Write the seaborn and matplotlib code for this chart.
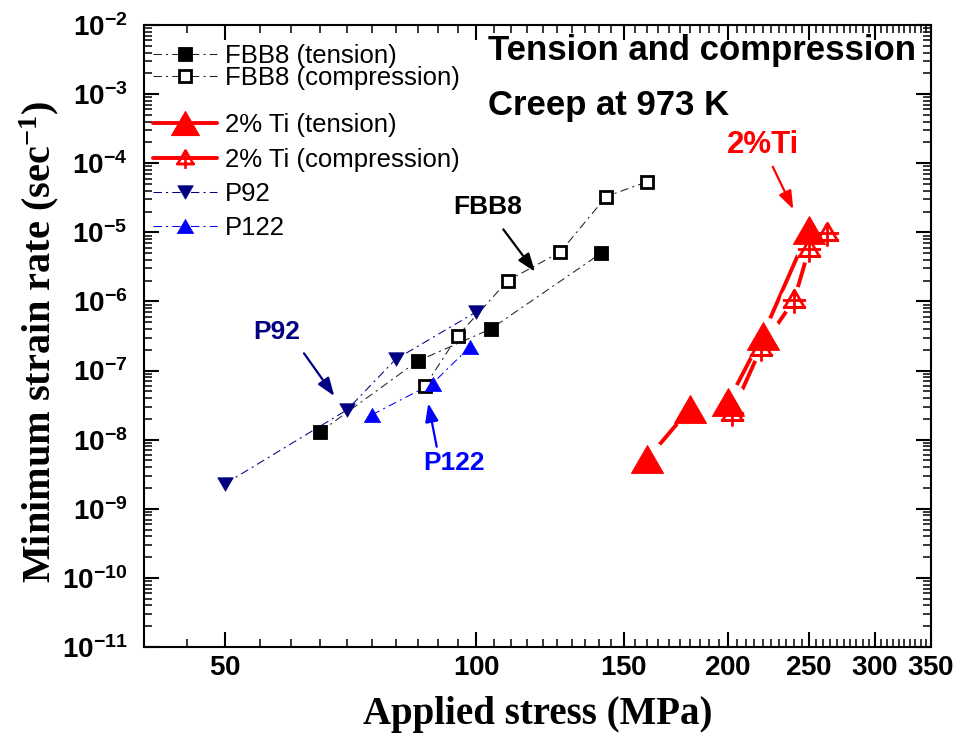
import numpy as np
import matplotlib
matplotlib.use("Agg")
import matplotlib.pyplot as plt
from matplotlib.path import Path
from matplotlib.lines import Line2D
from matplotlib.ticker import FixedLocator, FuncFormatter, NullFormatter
import seaborn as sns

# ---- creep data: applied stress (MPa) vs minimum strain rate (1/s) ----
fbb8_t_stress = [65, 85, 104, 141]
fbb8_t_rate = [1.3e-8, 1.37e-7, 4.0e-7, 5.0e-6]

fbb8_c_stress = [86.8, 95, 109, 126, 143, 160]
fbb8_c_rate = [6.0e-8, 3.2e-7, 2.0e-6, 5.2e-6, 3.3e-5, 5.4e-5]

ti_t_stress = [160, 180, 200, 220, 250]
ti_t_rate = [5.2e-9, 2.8e-8, 3.5e-8, 3.2e-7, 1.08e-5]

ti_c_stress = [202, 219, 240, 250, 263]
ti_c_rate = [2.4e-8, 2.1e-7, 1.05e-6, 5.7e-6, 9.7e-6]

p92_stress = [50, 70, 80, 100]
p92_rate = [2.3e-9, 2.7e-8, 1.45e-7, 7.1e-7]

p122_stress = [75, 88.6, 98.2]
p122_rate = [2.3e-8, 6.5e-8, 2.2e-7]

legend_labels_a = ["FBB8 (tension)", "FBB8 (compression)"]
legend_labels_b = ["2% Ti (tension)", "2% Ti (compression)", "P92", "P122"]

x_ticks = [50, 100, 150, 200, 250, 300, 350]
y_exponents = list(range(-11, -1))

# ---- style ----
sns.set_theme(style="white")
plt.rcParams["font.family"] = ["Liberation Sans", "DejaVu Sans"]
plt.rcParams["mathtext.fontset"] = "custom"
plt.rcParams["mathtext.bf"] = "Liberation Sans:bold"
plt.rcParams["mathtext.rm"] = "Liberation Serif:bold"
plt.rcParams["mathtext.it"] = "Liberation Serif:bold:italic"
plt.rcParams["text.color"] = "black"

RED = "#FF0000"
NAVY = "#000080"
BLUE = "#0000FF"
DASHDOT = (0, (8, 4, 2, 4))

# marker shapes: equilateral triangles and the crossed open triangle
MV, LT, CP = Path.MOVETO, Path.LINETO, Path.CLOSEPOLY
tri_up = Path([(0, 0.433), (-0.5, -0.433), (0.5, -0.433), (0, 0.433)], [MV, LT, LT, CP])
tri_down = Path([(0, -0.433), (-0.5, 0.433), (0.5, 0.433), (0, -0.433)], [MV, LT, LT, CP])
tri_cross = Path(
    [(0, 1.03), (-1, -0.7), (1, -0.7), (0, 1.03),
     (-1.17, 0.0), (1.17, 0.0),
     (-1.17, -0.7), (1.17, -0.7),
     (0, 1.03), (0, -1.33)],
    [MV, LT, LT, CP, MV, LT, MV, LT, MV, LT],
)

fig = plt.figure(figsize=(9.62, 7.34), dpi=100)
ax = fig.add_axes([0.1497, 0.1185, 0.8181, 0.8474])
ax.set_xscale("log")
ax.set_yscale("log")


def draw_line(x, y, color, lw, ls, z=2):
    sns.lineplot(x=x, y=y, ax=ax, sort=False, estimator=None, color=color,
                 linewidth=lw, linestyle=ls, zorder=z, legend=False)


def draw_marks(x, y, marker, ms, mfc, mec, mew, z=3):
    sns.lineplot(x=x, y=y, ax=ax, sort=False, estimator=None, color=mec,
                 linestyle="none", marker=marker, markersize=ms,
                 markerfacecolor=mfc, markeredgecolor=mec,
                 markeredgewidth=mew, zorder=z, legend=False)


# connecting lines
draw_line(fbb8_t_stress, fbb8_t_rate, "#222222", 0.75, DASHDOT)
draw_line(fbb8_c_stress, fbb8_c_rate, "#222222", 0.75, DASHDOT)
draw_line(p92_stress, p92_rate, NAVY, 0.75, DASHDOT)
draw_line(p122_stress, p122_rate, BLUE, 0.75, DASHDOT)
draw_line(ti_c_stress, ti_c_rate, RED, 2.8, "-")
draw_line(ti_t_stress, ti_t_rate, RED, 2.8, "-")

# white halos leave a gap in the thick lines around each symbol
draw_marks(ti_c_stress, ti_c_rate, "o", 20, "white", "white", 0, z=2.5)
draw_marks(ti_t_stress, ti_t_rate, "o", 28, "white", "white", 0, z=2.5)

# symbols
draw_marks(fbb8_t_stress, fbb8_t_rate, "s", 10.2, "black", "black", 0.6)
draw_marks(fbb8_c_stress, fbb8_c_rate, "s", 9.0, "white", "black", 2.0)
draw_marks(p92_stress, p92_rate, tri_down, 11.2, NAVY, NAVY, 0.5)
draw_marks(p122_stress, p122_rate, tri_up, 11.8, BLUE, BLUE, 0.5)
draw_marks(ti_c_stress, ti_c_rate, tri_cross, 19, "white", RED, 2.0, z=3.1)
draw_marks(ti_t_stress, ti_t_rate, tri_up, 23, RED, RED, 0.8, z=3.2)

# ---- axes ----
ax.set_xlim(40, 350)
ax.set_ylim(1e-11, 1e-2)
ax.xaxis.set_major_locator(FixedLocator(x_ticks))
ax.xaxis.set_minor_locator(FixedLocator([v for v in np.arange(40, 351, 5) if v not in x_ticks]))
ax.xaxis.set_major_formatter(FuncFormatter(lambda v, p: r"$\mathbf{%d}$" % round(v)))
ax.xaxis.set_minor_formatter(NullFormatter())
ax.yaxis.set_major_locator(FixedLocator([10.0 ** e for e in y_exponents]))
ax.yaxis.set_minor_locator(FixedLocator([m * 10.0 ** e for e in y_exponents[:-1] for m in range(2, 10)]))
ax.yaxis.set_major_formatter(FuncFormatter(lambda v, p: r"$\mathbf{10^{%d}}$" % round(np.log10(v))))
ax.yaxis.set_minor_formatter(NullFormatter())

ax.tick_params(which="both", direction="in", top=True, right=True, bottom=True, left=True, color="black")
ax.tick_params(which="major", length=11, width=1.5)
ax.tick_params(which="minor", length=6, width=1.1)
ax.tick_params(axis="x", which="major", labelsize=20, pad=6, labelcolor="black")
ax.tick_params(axis="y", which="major", labelsize=20, pad=12, labelcolor="black")
for s in ax.spines.values():
    s.set_color("black")
    s.set_linewidth(1.5)
ax.set_facecolor("white")

ax.set_xlabel("Applied stress (MPa)", fontfamily="Liberation Serif", fontweight="bold",
              fontsize=28, color="black")
ax.set_ylabel(r"Minimum strain rate (sec$^{\mathrm{-1}}$)", fontfamily="Liberation Serif",
              fontweight="bold", fontsize=29, color="black")
ax.xaxis.set_label_coords(0.5, -0.078)
ax.yaxis.set_label_coords(-0.105, 0.49)

# ---- legends ----
h_fbb8_t = Line2D([], [], color="#222222", lw=0.75, ls=DASHDOT, marker="s", ms=10.2,
                  mfc="black", mec="black", mew=0.6)
h_fbb8_c = Line2D([], [], color="#222222", lw=0.75, ls=DASHDOT, marker="s", ms=9.0,
                  mfc="white", mec="black", mew=2.0)
h_ti_t = Line2D([], [], color=RED, lw=2.8, marker=tri_up, ms=20, mfc=RED, mec=RED, mew=0.8)
h_ti_c = Line2D([], [], color=RED, lw=2.8, marker=tri_cross, ms=15, mfc="none", mec=RED, mew=1.8)
h_p92 = Line2D([], [], color=NAVY, lw=0.75, ls=DASHDOT, marker=tri_down, ms=11.2,
               mfc=NAVY, mec=NAVY, mew=0.5)
h_p122 = Line2D([], [], color=BLUE, lw=0.75, ls=DASHDOT, marker=tri_up, ms=11.8,
                mfc=BLUE, mec=BLUE, mew=0.5)

common = dict(loc="upper left", frameon=False, fontsize=18.5, handlelength=2.5,
              handletextpad=0.3, borderpad=0, borderaxespad=0, numpoints=1,
              labelcolor="black")
leg_a = ax.legend(handles=[h_fbb8_t, h_fbb8_c], labels=legend_labels_a,
                  bbox_to_anchor=(0.0114, 0.970), labelspacing=-0.08, **common)
ax.add_artist(leg_a)
ax.legend(handles=[h_ti_t, h_ti_c, h_p92, h_p122], labels=legend_labels_b,
          bbox_to_anchor=(0.0114, 0.858), labelspacing=0.40, **common)

# ---- annotations ----
txt = dict(transform=ax.transAxes, ha="left", va="baseline", fontweight="bold")
ax.text(0.4371, 0.9437, "Tension and compression", fontsize=25, color="black", **txt)
ax.text(0.4371, 0.8553, "Creep at 973 K", fontsize=25, color="black", **txt)
ax.text(0.3923, 0.6961, "FBB8", fontsize=19, color="black", **txt)
ax.text(0.7404, 0.7947, "2%Ti", fontsize=22.5, color=RED, **txt)
ax.text(0.1389, 0.4947, "P92", fontsize=19, color=NAVY, **txt)
ax.text(0.3549, 0.2846, "P122", fontsize=19, color=BLUE, **txt)


def arrow(start, end, color):
    ax.annotate("", xy=end, xytext=start, xycoords="axes fraction", textcoords="axes fraction",
                arrowprops=dict(arrowstyle="-|>,head_length=0.55,head_width=0.2",
                                color=color, lw=1.6, mutation_scale=20,
                                shrinkA=0, shrinkB=0))


arrow((0.4565, 0.6715), (0.4968, 0.6034), "black")
arrow((0.2033, 0.4722), (0.2418, 0.4035), NAVY)
arrow((0.3719, 0.3220), (0.3612, 0.3918), BLUE)
arrow((0.7989, 0.7722), (0.8250, 0.7037), RED)

fig.savefig("out.png", dpi=100, facecolor="white")
